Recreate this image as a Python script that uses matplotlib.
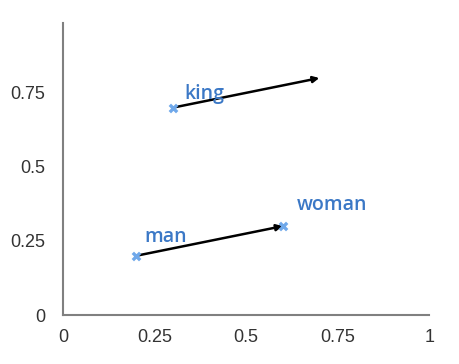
import matplotlib
matplotlib.use("Agg")
import matplotlib.pyplot as plt

words = ["man", "woman", "king"]
word_x = [0.2, 0.6, 0.3]
word_y = [0.2, 0.3, 0.7]
label_dx = [0.022, 0.038, 0.032]
label_dy = [0.065, 0.07, 0.045]

# arrow: man -> woman, and the same offset starting at king
arrow_start = [(0.2, 0.2), (0.3, 0.7)]
arrow_end = [(0.6, 0.3), (0.7, 0.8)]

ticks = [0, 0.25, 0.5, 0.75, 1]
tick_labels = ["0", "0.25", "0.5", "0.75", "1"]

fig = plt.figure(figsize=(4.6, 3.64), dpi=100)
ax = fig.add_axes([0.137, 0.1346, 0.796, 0.8024])

for (x0, y0), (x1, y1) in zip(arrow_start, arrow_end):
    ax.annotate("", xy=(x1, y1), xytext=(x0, y0),
                arrowprops=dict(arrowstyle="-|>", color="black", lw=1.8,
                                mutation_scale=9, shrinkA=0, shrinkB=0))

ax.scatter(word_x, word_y, marker="x", s=28, color="#6fa8ea", linewidths=2.4, zorder=3)

for w, x, y, dx, dy in zip(words, word_x, word_y, label_dx, label_dy):
    ax.text(x + dx, y + dy, w, color="#3b78c6", fontsize=14,
            family="Open Sans", fontweight="semibold", va="center", ha="left")

ax.set_xlim(0, 1)
ax.set_ylim(0, 0.986)
ax.set_xticks(ticks)
ax.set_xticklabels(tick_labels)
ax.set_yticks(ticks[:4])
ax.set_yticklabels(tick_labels[:4])
ax.tick_params(length=0, labelsize=13, colors="#333333")
ax.tick_params(axis="y", pad=13)
ax.tick_params(axis="x", pad=10)
for lab in ax.get_xticklabels() + ax.get_yticklabels():
    lab.set_family("Liberation Sans")
ax.spines["top"].set_visible(False)
ax.spines["right"].set_visible(False)
for s in ["left", "bottom"]:
    ax.spines[s].set_color("#808080")
    ax.spines[s].set_linewidth(1.5)

plt.savefig("out.png")
